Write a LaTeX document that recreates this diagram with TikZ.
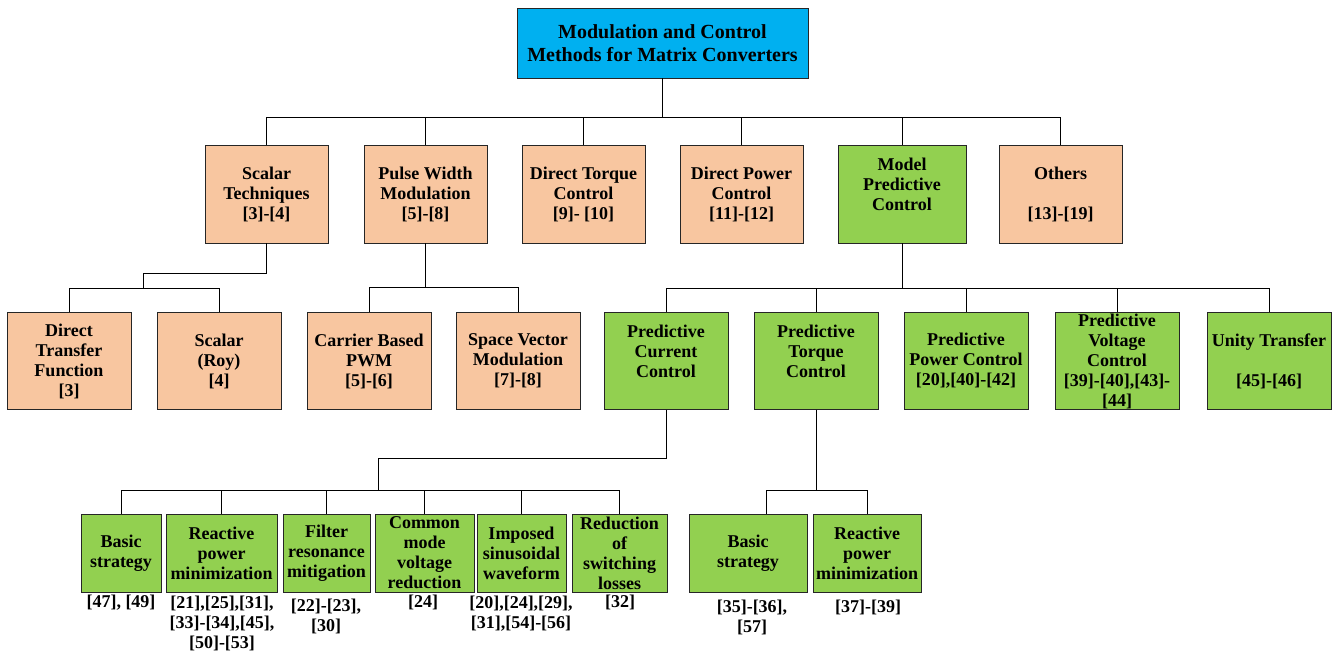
\documentclass[tikz,border=0pt]{standalone}
\usepackage{fontspec}
\setmainfont{Liberation Serif}
\usetikzlibrary{calc}
\definecolor{peachc}{HTML}{F8C6A0}
\definecolor{greenc}{HTML}{92D050}
\definecolor{cyanc}{HTML}{00B0F0}
\begin{document}
\begin{tikzpicture}[x=1pt,y=-1pt,
  box/.style={draw=black!85, line width=0.9pt, inner sep=0pt, align=center,
    font=\bfseries\fontsize{18}{20}\selectfont},
  peach/.style={box, fill=peachc},
  greenb/.style={box, fill=greenc},
  lvA/.style={minimum width=123pt, minimum height=98pt},
  lvB/.style={minimum width=124pt, minimum height=97pt},
  lvC/.style={minimum height=78pt},
  reflabel/.style={font=\bfseries\fontsize{18}{20}\selectfont, align=center, inner sep=0pt, anchor=north},
  conn/.style={draw=black, line width=0.8pt}]
\useasboundingbox (0,0) rectangle (1336,655);
% root
\node[box, fill=cyanc, minimum width=291pt, minimum height=70pt,
  font=\bfseries\fontsize{20}{23}\selectfont] (root) at (662.5,43)
  {Modulation and Control\\Methods for Matrix Converters};
% level 1
\node[peach, lvA] (sc) at (266.5,194) {Scalar\\Techniques\\{[3]-[4]}};
\node[peach, lvA] (pwm) at (425.5,194) {Pulse Width\\Modulation\\{[5]-[8]}};
\node[peach, lvA] (dtc) at (583.5,194) {Direct Torque\\Control\\{[9]- [10]}};
\node[peach, lvA] (dpc) at (741.5,194) {Direct Power\\Control\\{[11]-[12]}};
\node[greenb, lvA, minimum width=128pt] (mpc) at (902,194) {Model\\Predictive\\Control\\\mbox{}};
\node[peach, lvA] (oth) at (1060.5,194) {Others\\\mbox{}\\{[13]-[19]}};
% level 2
\node[peach, lvB] (dtf) at (69,361) {Direct\\Transfer\\Function\\{[3]}};
\node[peach, lvB] (roy) at (219,361) {Scalar\\(Roy)\\{[4]}};
\node[peach, lvB] (cb) at (369,361) {Carrier Based\\PWM\\{[5]-[6]}};
\node[peach, lvB] (svm) at (518,361) {Space Vector\\Modulation\\{[7]-[8]}};
\node[greenb, lvB] (pcc) at (666,361) {Predictive\\Current\\Control\\\mbox{}};
\node[greenb, lvB] (ptc) at (816,361) {Predictive\\Torque\\Control\\\mbox{}};
\node[greenb, lvB] (ppc) at (966,361) {Predictive\\Power Control\\{[20],[40]-[42]}};
\node[greenb, lvB] (pvc) at (1117,361) {Predictive\\Voltage\\Control\\{[39]-[40],[43]-}\\{[44]}};
\node[greenb, lvB] (ut) at (1269,361) {Unity Transfer\\\mbox{}\\{[45]-[46]}};
% level 3
\node[greenb, lvC, minimum width=80pt] (c1) at (121,553) {Basic\\strategy};
\node[greenb, lvC, minimum width=111pt] (c2) at (221.5,553) {Reactive\\power\\minimization};
\node[greenb, lvC, minimum width=87pt] (c3) at (326.5,553) {Filter\\resonance\\mitigation};
\node[greenb, lvC, minimum width=99pt] (c4) at (424.5,553) {Common\\mode\\voltage\\reduction};
\node[greenb, lvC, minimum width=89pt] (c5) at (521.5,553) {Imposed\\sinusoidal\\waveform};
\node[greenb, lvC, minimum width=95pt] (c6) at (619.5,553) {Reduction\\of\\switching\\losses};
\node[greenb, lvC, minimum width=118pt] (t1) at (748,553) {Basic\\strategy};
\node[greenb, lvC, minimum width=108pt] (t2) at (867,553) {Reactive\\power\\minimization};
% reference labels
\node[reflabel] (r1) at (121,595) {[47], [49]};
\node[reflabel] (r2) at (222,596) {[21],[25],[31],\\{[33]-[34],[45],}\\{[50]-[53]}};
\node[reflabel] (r3) at (326,599) {[22]-[23],\\{[30]}};
\node[reflabel] (r4) at (423,595) {[24]};
\node[reflabel] (r5) at (521,596) {[20],[24],[29],\\{[31],[54]-[56]}};
\node[reflabel] (r6) at (620,595) {[32]};
\node[reflabel] (r7) at (752,600) {[35]-[36],\\{[57]}};
\node[reflabel] (r8) at (868,600) {[37]-[39]};
% connectors
\foreach \c in {sc,pwm,dtc,dpc,mpc,oth}
  \draw[conn] (root.south) -- ++(0,39) -| (\c.north);
\coordinate (scj) at (143,288);
\draw[conn] (sc.south) -- ++(0,30) -| (scj);
\draw[conn] (scj) -| (dtf.north);
\draw[conn] (scj) -| (roy.north);
\foreach \c in {cb,svm}
  \draw[conn] (pwm.south) -- ++(0,44) -| (\c.north);
\foreach \c in {pcc,ptc,ppc,pvc,ut}
  \draw[conn] (mpc.south) -- ++(0,45) -| (\c.north);
\coordinate (pccj) at (378,490);
\draw[conn] (pcc.south) -- ++(0,48) -| (pccj);
\foreach \c in {c1,c2,c3,c4,c5,c6}
  \draw[conn] (pccj) -| (\c.north);
\draw[conn] (ptc.south) -- ++(0,80) -| ([xshift=18pt]t1.north);
\draw[conn] (ptc.south) -- ++(0,80) -| (t2.north);
\end{tikzpicture}
\end{document}
